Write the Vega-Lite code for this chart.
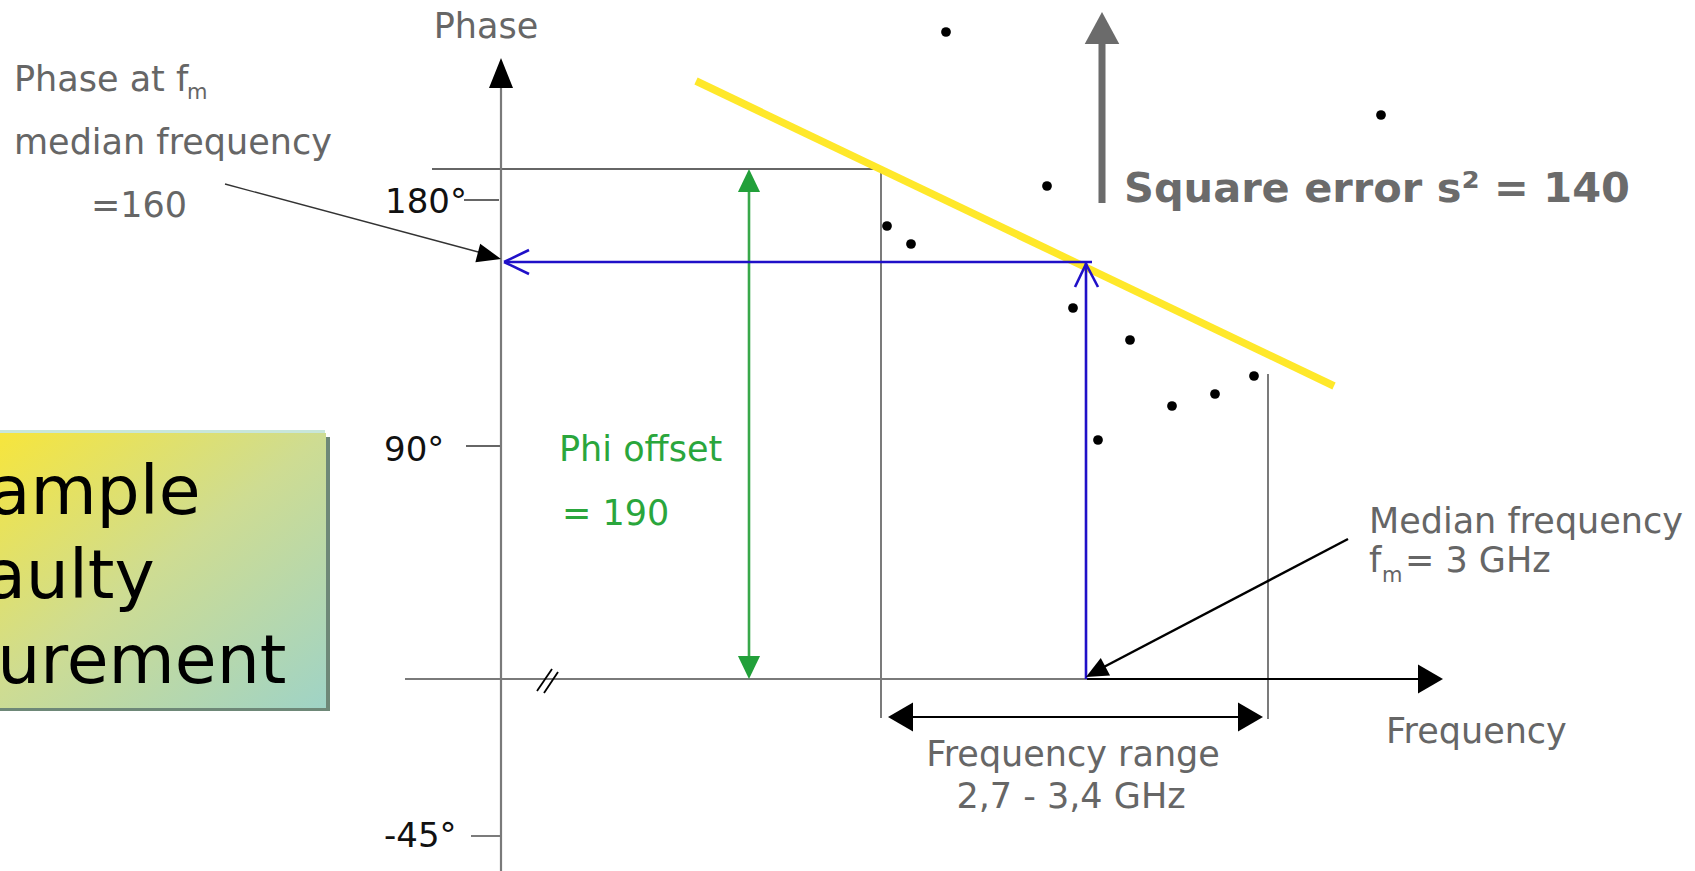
{
  "$schema": "https://vega.github.io/schema/vega-lite/v6.json",
  "width": 1695,
  "height": 871,
  "padding": 0,
  "autosize": {"type": "none"},
  "background": "white",
  "config": {"view": {"stroke": null}, "font": "DejaVu Sans"},
  "datasets": {
    "boxShadow": [{"x": -20, "y": 437, "x2": 330, "y2": 711}],
    "boxHighlight": [{"x": -20, "y": 430, "x2": 325, "y2": 435}],
    "box": [{"x": -20, "y": 433, "x2": 326, "y2": 708}],
    "boxTexts": [
      {"label": "Example", "x": 53, "y": 514},
      {"label": "Faulty", "x": 53, "y": 598},
      {"label": "Measurement", "x": 53, "y": 683}
    ],
    "thinLines": [
      {"x": 432, "y": 169, "x2": 881, "y2": 169},
      {"x": 881, "y": 169, "x2": 881, "y2": 718},
      {"x": 1268, "y": 374, "x2": 1268, "y2": 719},
      {"x": 464, "y": 200, "x2": 499, "y2": 200},
      {"x": 466, "y": 446, "x2": 500, "y2": 446},
      {"x": 471, "y": 836, "x2": 500, "y2": 836},
      {"x": 225, "y": 184, "x2": 482, "y2": 253}
    ],
    "axisGray": [
      {"x": 501, "y": 86, "x2": 501, "y2": 871},
      {"x": 405, "y": 679, "x2": 1087, "y2": 679}
    ],
    "axisBlack": [{"x": 1087, "y": 679, "x2": 1422, "y2": 679}],
    "breakMarks": [
      {"x": 537, "y": 691, "x2": 552, "y2": 669},
      {"x": 544, "y": 693, "x2": 558, "y2": 672}
    ],
    "rangeLine": [{"x": 905, "y": 717, "x2": 1246, "y2": 717}],
    "medianLine": [{"x": 1348, "y": 539, "x2": 1100, "y2": 669}],
    "greenLine": [{"x": 749, "y": 185, "x2": 749, "y2": 662}],
    "yellowLine": [{"x": 696, "y": 81, "x2": 1334, "y2": 386}],
    "blueLines": [
      {"x": 506, "y": 262, "x2": 1092, "y2": 262},
      {"x": 1086, "y": 262, "x2": 1086, "y2": 679},
      {"x": 504, "y": 262, "x2": 529, "y2": 250},
      {"x": 504, "y": 262, "x2": 529, "y2": 274},
      {"x": 1086, "y": 264, "x2": 1075, "y2": 287},
      {"x": 1086, "y": 264, "x2": 1098, "y2": 287}
    ],
    "errorShaft": [{"x": 1102, "y": 40, "x2": 1102, "y2": 203}],
    "dots": [
      {"x": 946, "y": 32}, {"x": 1047, "y": 186}, {"x": 1381, "y": 115},
      {"x": 887, "y": 226}, {"x": 911, "y": 244}, {"x": 1073, "y": 308},
      {"x": 1130, "y": 340}, {"x": 1172, "y": 406}, {"x": 1215, "y": 394},
      {"x": 1254, "y": 376}, {"x": 1098, "y": 440}
    ],
    "headUp": [{"x": 501, "y": 58}],
    "headRight": [{"x": 1443, "y": 679}, {"x": 1263, "y": 717}],
    "headLeft": [{"x": 888, "y": 717}],
    "greenUp": [{"x": 749, "y": 169}],
    "greenDown": [{"x": 749, "y": 679}],
    "annotHead": [{"x": 501, "y": 259}],
    "medianHead": [{"x": 1086, "y": 677}],
    "errorHead": [{"x": 1102, "y": 12}],
    "grayLeft": [
      {"label": "Phase at f", "x": 14, "y": 91},
      {"label": "median frequency", "x": 14, "y": 154},
      {"label": "=160", "x": 91, "y": 217},
      {"label": "Median frequency", "x": 1369, "y": 533},
      {"label": "f", "x": 1369, "y": 572},
      {"label": "= 3 GHz", "x": 1405, "y": 572},
      {"label": "Frequency", "x": 1386, "y": 743}
    ],
    "grayCenter": [
      {"label": "Phase", "x": 486, "y": 38},
      {"label": "Frequency range", "x": 1073, "y": 766},
      {"label": "2,7 - 3,4 GHz", "x": 1071, "y": 808}
    ],
    "subscripts": [
      {"label": "m", "x": 187, "y": 99},
      {"label": "m", "x": 1382, "y": 582}
    ],
    "tickLabels": [
      {"label": "180°", "x": 385, "y": 213},
      {"label": "90°", "x": 384, "y": 461},
      {"label": "-45°", "x": 384, "y": 847}
    ],
    "greenTexts": [
      {"label": "Phi offset", "x": 559, "y": 461},
      {"label": "= 190", "x": 562, "y": 525}
    ],
    "errorText": [{"label": "Square error s² = 140", "x": 1124, "y": 202}]
  },
  "encoding": {
    "x": {"field": "x", "type": "quantitative", "scale": {"domain": [0, 1695], "nice": false, "zero": false}, "axis": null},
    "y": {"field": "y", "type": "quantitative", "scale": {"domain": [0, 871], "reverse": true, "nice": false, "zero": false}, "axis": null}
  },
  "layer": [
    {"data": {"name": "boxShadow"}, "mark": {"type": "rect", "color": "#6E8878"}, "encoding": {"x2": {"field": "x2"}, "y2": {"field": "y2"}}},
    {"data": {"name": "boxHighlight"}, "mark": {"type": "rect", "color": "#C8E6DA"}, "encoding": {"x2": {"field": "x2"}, "y2": {"field": "y2"}}},
    {"data": {"name": "box"}, "mark": {"type": "rect", "fill": {"gradient": "linear", "x1": 0, "y1": 0, "x2": 1, "y2": 1, "stops": [{"offset": 0, "color": "#F9E637"}, {"offset": 0.5, "color": "#CEDC92"}, {"offset": 1, "color": "#9FD3C6"}]}}, "encoding": {"x2": {"field": "x2"}, "y2": {"field": "y2"}}},
    {"data": {"name": "boxTexts"}, "mark": {"type": "text", "fontSize": 68, "align": "center", "baseline": "alphabetic", "color": "#000000"}, "encoding": {"text": {"field": "label"}}},
    {"data": {"name": "thinLines"}, "mark": {"type": "rule", "color": "#333333", "strokeWidth": 1.3}, "encoding": {"x2": {"field": "x2"}, "y2": {"field": "y2"}}},
    {"data": {"name": "axisGray"}, "mark": {"type": "rule", "color": "#7A7A7A", "strokeWidth": 2.2}, "encoding": {"x2": {"field": "x2"}, "y2": {"field": "y2"}}},
    {"data": {"name": "axisBlack"}, "mark": {"type": "rule", "color": "#000000", "strokeWidth": 2.2}, "encoding": {"x2": {"field": "x2"}, "y2": {"field": "y2"}}},
    {"data": {"name": "breakMarks"}, "mark": {"type": "rule", "color": "#000000", "strokeWidth": 1.8}, "encoding": {"x2": {"field": "x2"}, "y2": {"field": "y2"}}},
    {"data": {"name": "rangeLine"}, "mark": {"type": "rule", "color": "#000000", "strokeWidth": 2.2}, "encoding": {"x2": {"field": "x2"}, "y2": {"field": "y2"}}},
    {"data": {"name": "medianLine"}, "mark": {"type": "rule", "color": "#000000", "strokeWidth": 2.5}, "encoding": {"x2": {"field": "x2"}, "y2": {"field": "y2"}}},
    {"data": {"name": "greenLine"}, "mark": {"type": "rule", "color": "#38A84A", "strokeWidth": 2.6}, "encoding": {"x2": {"field": "x2"}, "y2": {"field": "y2"}}},
    {"data": {"name": "yellowLine"}, "mark": {"type": "rule", "color": "#FFE82A", "strokeWidth": 7.5}, "encoding": {"x2": {"field": "x2"}, "y2": {"field": "y2"}}},
    {"data": {"name": "blueLines"}, "mark": {"type": "rule", "color": "#2010C8", "strokeWidth": 2.6}, "encoding": {"x2": {"field": "x2"}, "y2": {"field": "y2"}}},
    {"data": {"name": "errorShaft"}, "mark": {"type": "rule", "color": "#6B6B6B", "strokeWidth": 7}, "encoding": {"x2": {"field": "x2"}, "y2": {"field": "y2"}}},
    {"data": {"name": "dots"}, "mark": {"type": "point", "shape": "circle", "filled": true, "color": "#000000", "opacity": 1, "size": 95, "strokeWidth": 0}},
    {"data": {"name": "headUp"}, "mark": {"type": "point", "shape": "M0,0L-0.4,1L0.4,1Z", "filled": true, "color": "#000000", "opacity": 1, "size": 3600, "strokeWidth": 0}},
    {"data": {"name": "headRight"}, "mark": {"type": "point", "shape": "M0,0L-0.58,1L0.58,1Z", "filled": true, "color": "#000000", "opacity": 1, "size": 2500, "angle": 90, "strokeWidth": 0}},
    {"data": {"name": "headLeft"}, "mark": {"type": "point", "shape": "M0,0L-0.58,1L0.58,1Z", "filled": true, "color": "#000000", "opacity": 1, "size": 2500, "angle": 270, "strokeWidth": 0}},
    {"data": {"name": "greenUp"}, "mark": {"type": "point", "shape": "M0,0L-0.48,1L0.48,1Z", "filled": true, "color": "#22A03A", "opacity": 1, "size": 2116, "strokeWidth": 0}},
    {"data": {"name": "greenDown"}, "mark": {"type": "point", "shape": "M0,0L-0.48,1L0.48,1Z", "filled": true, "color": "#22A03A", "opacity": 1, "size": 2116, "angle": 180, "strokeWidth": 0}},
    {"data": {"name": "annotHead"}, "mark": {"type": "point", "shape": "M0,0L-0.4,1L0.4,1Z", "filled": true, "color": "#000000", "opacity": 1, "size": 2304, "angle": 104.6, "strokeWidth": 0}},
    {"data": {"name": "medianHead"}, "mark": {"type": "point", "shape": "M0,0L-0.45,1L0.45,1Z", "filled": true, "color": "#000000", "opacity": 1, "size": 1936, "angle": 242, "strokeWidth": 0}},
    {"data": {"name": "errorHead"}, "mark": {"type": "point", "shape": "M0,0L-0.54,1L0.54,1Z", "filled": true, "color": "#6B6B6B", "opacity": 1, "size": 4096, "strokeWidth": 0}},
    {"data": {"name": "grayLeft"}, "mark": {"type": "text", "fontSize": 35, "align": "left", "baseline": "alphabetic", "color": "#666666"}, "encoding": {"text": {"field": "label"}}},
    {"data": {"name": "grayCenter"}, "mark": {"type": "text", "fontSize": 35, "align": "center", "baseline": "alphabetic", "color": "#666666"}, "encoding": {"text": {"field": "label"}}},
    {"data": {"name": "subscripts"}, "mark": {"type": "text", "fontSize": 21, "align": "left", "baseline": "alphabetic", "color": "#666666"}, "encoding": {"text": {"field": "label"}}},
    {"data": {"name": "tickLabels"}, "mark": {"type": "text", "fontSize": 34, "align": "left", "baseline": "alphabetic", "color": "#111111"}, "encoding": {"text": {"field": "label"}}},
    {"data": {"name": "greenTexts"}, "mark": {"type": "text", "fontSize": 35, "align": "left", "baseline": "alphabetic", "color": "#2AA63C"}, "encoding": {"text": {"field": "label"}}},
    {"data": {"name": "errorText"}, "mark": {"type": "text", "fontSize": 41.5, "fontWeight": "bold", "align": "left", "baseline": "alphabetic", "color": "#6B6B6B"}, "encoding": {"text": {"field": "label"}}}
  ]
}
